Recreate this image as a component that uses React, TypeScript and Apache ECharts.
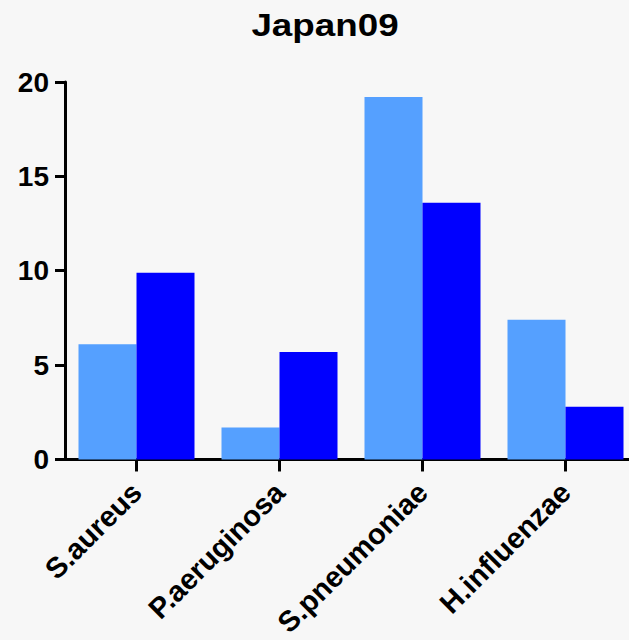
import React, { useEffect, useRef } from "react";
import * as echarts from "echarts";

const categories = ["S.aureus", "P.aeruginosa", "S.pneumoniae", "H.influenzae"];
const seriesLight = [6.1, 1.7, 19.2, 7.4];
const seriesDark = [9.9, 5.7, 13.6, 2.8];
const yTicks = [0, 5, 10, 15, 20];
const titleText = "Japan09";

export default function App() {
  const ref = useRef<HTMLDivElement>(null);
  useEffect(() => {
    if (!ref.current) return;
    const chart = echarts.init(ref.current, null, { renderer: "svg" });
    const font = "'Liberation Sans', Arial, Helvetica, sans-serif";
    chart.setOption({
      animation: false,
      backgroundColor: "#f7f7f7",
      graphic: [
        {
          type: "text",
          x: 325,
          y: 9,
          scaleX: 1.15,
          style: {
            text: titleText,
            align: "center",
            verticalAlign: "top",
            fontFamily: font,
            fontWeight: "bold",
            fontSize: 32,
            fill: "#000",
          },
        },
      ],
      grid: { left: 65, top: 82, width: 572, height: 380, containLabel: false },
      xAxis: {
        type: "category",
        data: categories,
        axisLine: { lineStyle: { color: "#000", width: 3 } },
        axisTick: { show: true, alignWithLabel: true, length: 12, lineStyle: { color: "#000", width: 3 } },
        axisLabel: {
          rotate: 45,
          margin: 28,
          fontFamily: font,
          fontWeight: "bold",
          fontSize: 29,
          color: "#000",
        },
      },
      yAxis: {
        type: "value",
        min: yTicks[0],
        max: yTicks[yTicks.length - 1],
        interval: 5,
        splitLine: { show: false },
        axisLine: { show: true, lineStyle: { color: "#000", width: 3 } },
        axisTick: { show: true, length: 10, lineStyle: { color: "#000", width: 3 } },
        axisLabel: {
          margin: 16,
          fontFamily: font,
          fontWeight: "bold",
          fontSize: 28,
          color: "#000",
        },
      },
      series: [
        {
          type: "bar",
          data: seriesLight,
          barWidth: 58,
          barGap: "0%",
          itemStyle: { color: "#55a0ff" },
        },
        {
          type: "bar",
          data: seriesDark,
          barWidth: 58,
          barGap: "0%",
          itemStyle: { color: "#0000ff" },
        },
      ],
    });
    return () => chart.dispose();
  }, []);
  return (
    <div style={{ position: "fixed", left: 0, top: 0, width: 629, height: 640, overflow: "hidden" }}>
      <div ref={ref} style={{ width: 645, height: 640 }} />
    </div>
  );
}
